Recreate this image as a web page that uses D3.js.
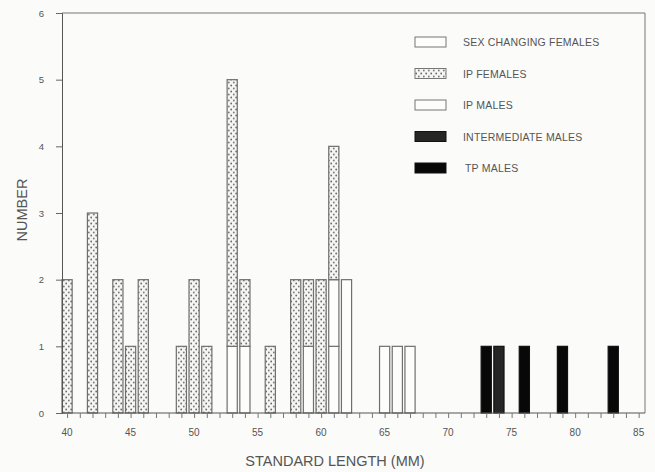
<!DOCTYPE html>
<html>
<head>
<meta charset="utf-8">
<script src="https://cdn.jsdelivr.net/npm/d3@7"></script>
<style>
  body { margin: 0; background: #fbfbfa; }
  svg { display: block; }
  text { font-family: "Liberation Sans", Arial, sans-serif; fill: #555; }
</style>
</head>
<body>
<svg id="chart" width="655" height="472"></svg>
<script>
  // standard length (mm) of each bar
  const lengths = [40, 42, 44, 45, 46, 49, 50, 51, 53, 54, 56, 58, 59, 60, 61, 62, 65, 66, 67, 73, 74, 76, 79, 83];

  // counts per series, same order as lengths
  const ipMales      = [0, 0, 0, 0, 0, 0, 0, 0, 1, 1, 0, 0, 1, 0, 1, 2, 1, 1, 1, 0, 0, 0, 0, 0];
  const sexChanging  = [0, 0, 0, 0, 0, 0, 0, 0, 0, 0, 0, 0, 0, 0, 1, 0, 0, 0, 0, 0, 0, 0, 0, 0];
  const ipFemales    = [2, 3, 2, 1, 2, 1, 2, 1, 4, 1, 1, 2, 1, 2, 2, 0, 0, 0, 0, 0, 0, 0, 0, 0];
  const intermediate = [0, 0, 0, 0, 0, 0, 0, 0, 0, 0, 0, 0, 0, 0, 0, 0, 0, 0, 0, 0, 1, 0, 0, 0];
  const tpMales      = [0, 0, 0, 0, 0, 0, 0, 0, 0, 0, 0, 0, 0, 0, 0, 0, 0, 0, 0, 1, 0, 1, 1, 1];

  const yTicks = [0, 1, 2, 3, 4, 5, 6];
  const xLabels = [40, 45, 50, 55, 60, 65, 70, 75, 80, 85];

  // stacking order, bottom to top
  const seriesKeys = ["ipMales", "sexChanging", "ipFemales", "intermediate", "tpMales"];
  const seriesVals = { ipMales, sexChanging, ipFemales, intermediate, tpMales };
  const legendOrder = [
    { key: "sexChanging", label: "SEX CHANGING FEMALES" },
    { key: "ipFemales", label: "IP FEMALES" },
    { key: "ipMales", label: "IP MALES" },
    { key: "intermediate", label: "INTERMEDIATE MALES" },
    { key: "tpMales", label: "TP MALES" }
  ];
  const fills = {
    ipMales: "#fdfdfc",
    sexChanging: "#fdfdfc",
    ipFemales: "url(#dots)",
    intermediate: "#262626",
    tpMales: "#080808"
  };

  const svg = d3.select("#chart");
  const mLeft = 62, mRight = 645, mTop = 13, mBottom = 413;

  const x = d3.scaleLinear().domain([39.6, 85.5]).range([mLeft, mRight]);
  const y = d3.scaleLinear().domain([0, 6]).range([mBottom, mTop]);

  // dotted fill
  const defs = svg.append("defs");
  const pat = defs.append("pattern").attr("id", "dots")
    .attr("patternUnits", "userSpaceOnUse").attr("width", 5).attr("height", 6);
  pat.append("rect").attr("width", 5).attr("height", 6).attr("fill", "#f5f5f3");
  pat.append("circle").attr("cx", 1.2).attr("cy", 1.5).attr("r", 0.9).attr("fill", "#6a6a6a");
  pat.append("circle").attr("cx", 3.8).attr("cy", 4.5).attr("r", 0.9).attr("fill", "#7a7a7a");

  const table = lengths.map((len, i) => {
    const row = { len };
    seriesKeys.forEach(k => { row[k] = seriesVals[k][i]; });
    return row;
  });
  const stacked = d3.stack().keys(seriesKeys)(table);

  const barW = x(40.4) - x(40);

  // bars
  const bars = svg.append("g");
  stacked.forEach(layer => {
    bars.selectAll(null)
      .data(layer.filter(d => d[1] > d[0]))
      .join("rect")
      .attr("x", d => x(d.data.len) - barW)
      .attr("y", d => y(d[1]))
      .attr("width", barW * 2)
      .attr("height", d => y(d[0]) - y(d[1]))
      .attr("fill", fills[layer.key])
      .attr("stroke", layer.key === "tpMales" || layer.key === "intermediate" ? "#111" : "#6f6f6f")
      .attr("stroke-width", 1.2);
  });

  // frame (top + right)
  svg.append("path")
    .attr("d", `M${mLeft},${mTop}H${mRight}V${mBottom}`)
    .attr("fill", "none").attr("stroke", "#777").attr("stroke-width", 1);

  // y axis
  const yAxis = svg.append("g").attr("transform", `translate(${mLeft},0)`)
    .call(d3.axisLeft(y).tickValues(yTicks).tickSize(6).tickPadding(12).tickFormat(d3.format("d")));
  yAxis.select(".domain").attr("stroke", "#555");
  yAxis.selectAll(".tick line").attr("stroke", "#666");
  yAxis.selectAll("text").attr("font-size", 9.5).attr("fill", "#555");

  // x axis
  const xAxis = svg.append("g").attr("transform", `translate(0,${mBottom})`)
    .call(d3.axisBottom(x).tickValues(d3.range(40, 86)).tickSize(5).tickFormat(""));
  xAxis.select(".domain").attr("stroke", "#555").attr("d", `M${mLeft},0H${mRight}`);
  xAxis.selectAll(".tick line").attr("stroke", "#777");

  svg.append("g").selectAll("text")
    .data(xLabels)
    .join("text")
    .attr("x", d => x(d))
    .attr("y", mBottom + 23)
    .attr("text-anchor", "middle")
    .attr("font-size", 10)
    .text(d => d);

  // axis titles
  svg.append("text")
    .attr("x", 335).attr("y", 466)
    .attr("text-anchor", "middle")
    .attr("font-size", 14.5).attr("fill", "#444")
    .text("STANDARD LENGTH (MM)");

  svg.append("text")
    .attr("transform", "translate(27,210) rotate(-90)")
    .attr("text-anchor", "middle")
    .attr("font-size", 14.5).attr("fill", "#444")
    .text("NUMBER");

  // legend
  const legend = svg.append("g");
  legendOrder.forEach((item, i) => {
    const ly = 37 + i * 31.5;
    legend.append("rect")
      .attr("x", 415).attr("y", ly)
      .attr("width", 31).attr("height", 10)
      .attr("fill", fills[item.key])
      .attr("stroke", item.key === "tpMales" || item.key === "intermediate" ? "#111" : "#777")
      .attr("stroke-width", 1);
    legend.append("text")
      .attr("x", item.key === "tpMales" ? 465 : 463).attr("y", ly + 9)
      .attr("font-size", 10.5)
      .attr("letter-spacing", 0.2)
      .text(item.label);
  });
</script>
</body>
</html>
